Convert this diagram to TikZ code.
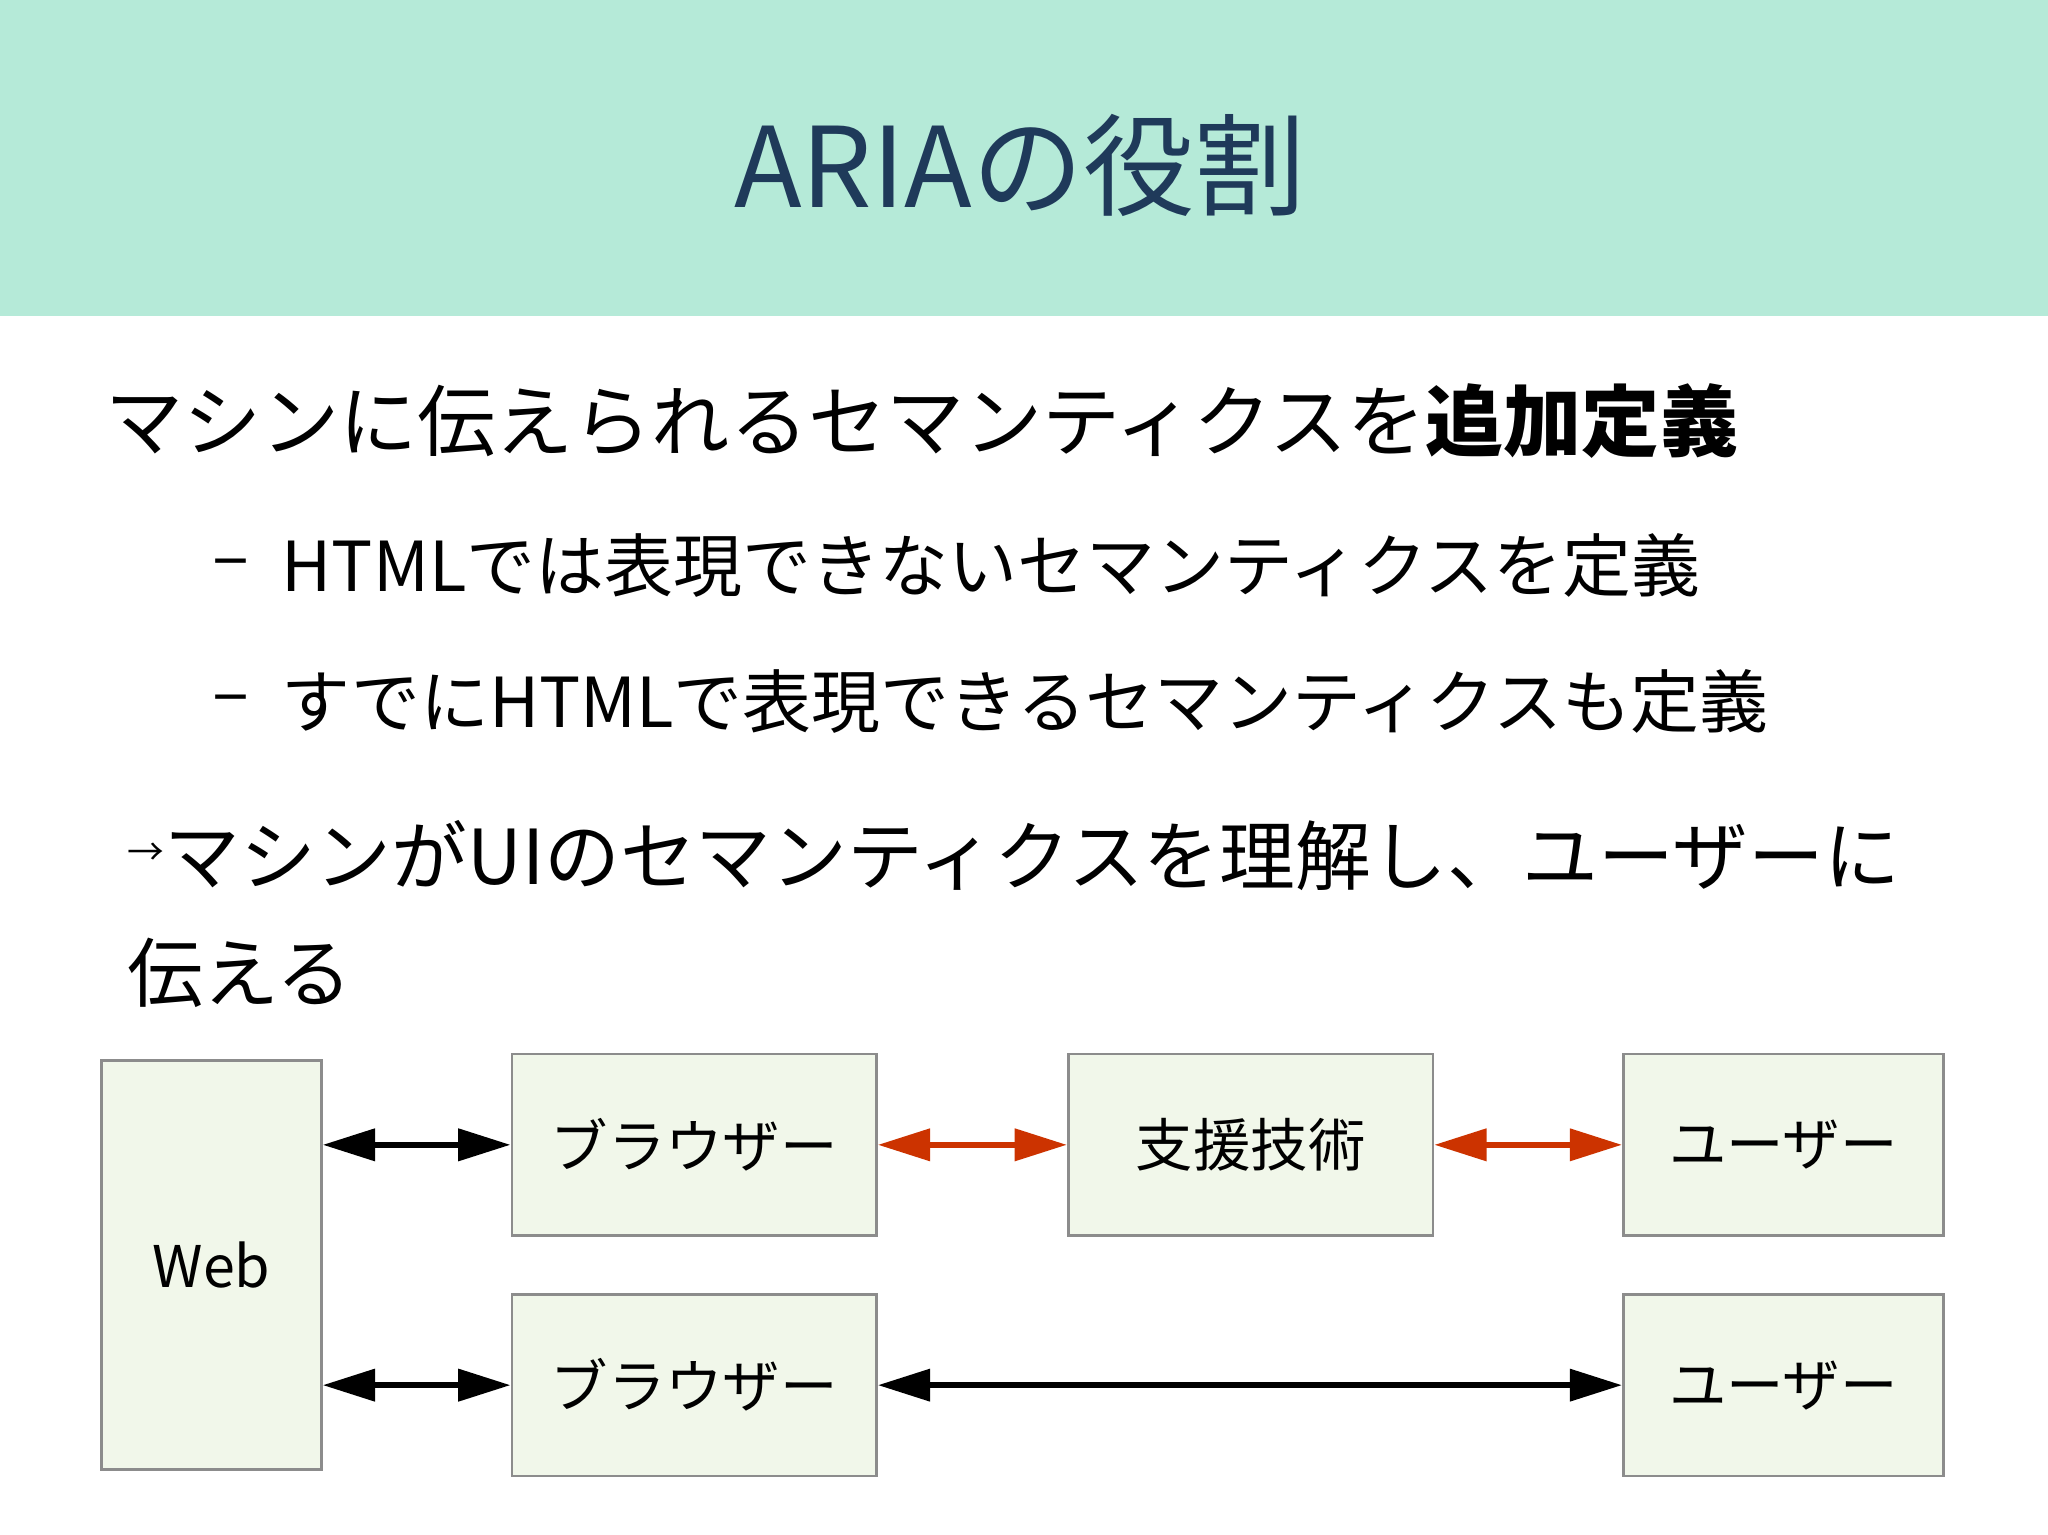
\documentclass[tikz,border=0pt]{standalone}
\usepackage{fontspec}
\setmainfont{Noto Sans CJK JP}
\usetikzlibrary{arrows.meta}
\definecolor{band}{HTML}{B5EAD8}
\definecolor{titlec}{HTML}{1F3A5A}
\definecolor{boxfill}{HTML}{F1F7EA}
\definecolor{redar}{HTML}{CC3300}
\tikzset{
  px/.style={x=0.01cm,y=-0.01cm},
  box/.style={draw=black!45,fill=boxfill,line width=0.6pt,inner sep=0pt,font=\fontsize{12.5}{15}\selectfont},
  body/.style={anchor=west,inner sep=0pt,font=\fontsize{16.5}{20}\selectfont},
  sub/.style={anchor=west,inner sep=0pt,font=\fontsize{15}{18}\selectfont},
  dbl/.style={{Triangle[length=0.4cm,width=0.24cm]}-{Triangle[length=0.4cm,width=0.24cm]},line width=1.3pt},
}
\begin{document}
\begin{tikzpicture}[px]
\useasboundingbox (0,0) rectangle (1568,1175);
\fill[white] (0,0) rectangle (1568,1175);
\fill[band] (0,0) rectangle (1568,242);
\node[text=titlec,font=\fontsize{24.2}{29}\selectfont] (title) at (781,127) {ARIAの役割};
\node[body,font=\fontsize{17}{20}\selectfont] (l1) at (80,322) {マシンに伝えられるセマンティクスを\textbf{追加定義}};
\node[sub] (d2) at (162,436) {–};
\node[sub] (l2) at (215,433) {HTMLでは表現できないセマンティクスを定義};
\node[sub] (d3) at (162,540) {–};
\node[sub] (l3) at (215,537) {すでにHTMLで表現できるセマンティクスも定義};
\node[body] (l4) at (97,655) {\raisebox{0.45ex}{\fontsize{8}{8}\selectfont →}マシンがUIのセマンティクスを理解し、ユーザーに};
\node[body] (l5) at (97,745) {伝える};
\node[box,minimum width=1.68cm,minimum height=3.13cm] (web) at (162,968.5) {Web};
\node[box,minimum width=2.79cm,minimum height=1.39cm] (b1) at (531.5,876.5) {ブラウザー};
\node[box,minimum width=2.79cm,minimum height=1.39cm] (b2) at (531.5,1060.5) {ブラウザー};
\node[box,minimum width=2.79cm,minimum height=1.39cm] (at) at (957.5,876.5) {支援技術};
\node[box,minimum width=2.45cm,minimum height=1.39cm] (u1) at (1365.5,876.5) {ユーザー};
\node[box,minimum width=2.45cm,minimum height=1.39cm] (u2) at (1365.5,1060.5) {ユーザー};
\draw[dbl] (web.east |- b1) -- (b1.west);
\draw[dbl] (web.east |- b2) -- (b2.west);
\draw[dbl,redar] (b1.east) -- (at.west);
\draw[dbl,redar] (at.east) -- (u1.west);
\draw[dbl] (b2.east) -- (u2.west);
\end{tikzpicture}
\end{document}
